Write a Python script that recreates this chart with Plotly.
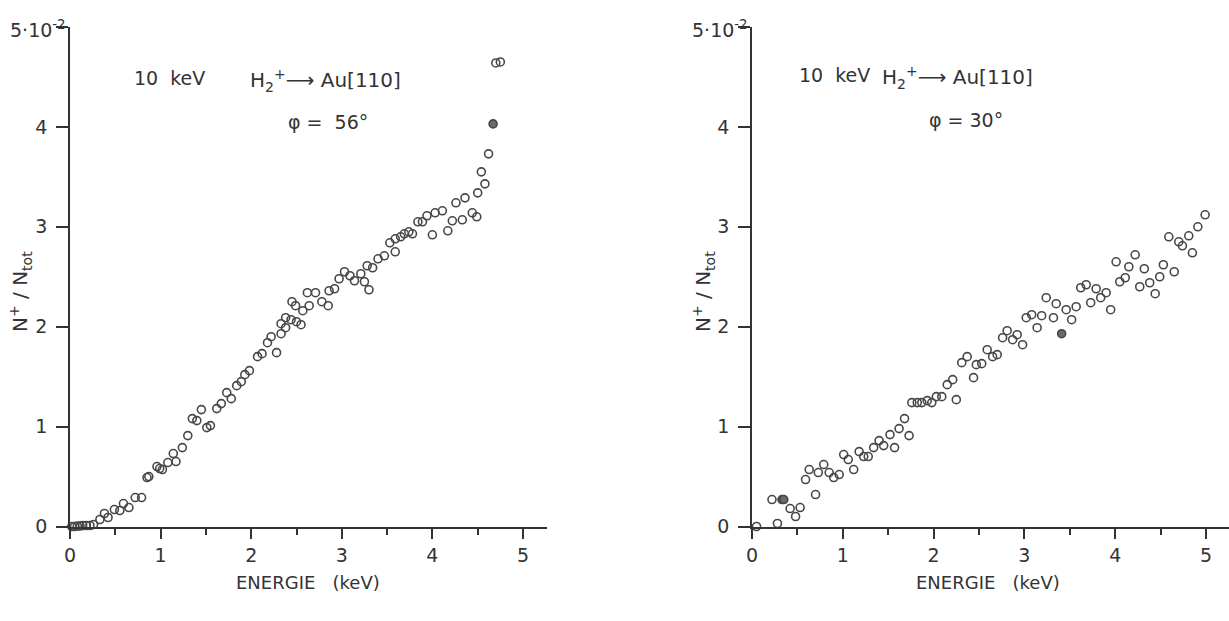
import plotly.graph_objects as go

# ---------------- data ----------------
left_x = [0.02, 0.05, 0.08, 0.11, 0.14, 0.18, 0.22, 0.26, 0.33, 0.38, 0.42, 0.49, 0.55, 0.59, 0.65,
          0.72, 0.79, 0.85, 0.87, 0.96, 0.99, 1.02, 1.08, 1.14, 1.17, 1.24, 1.30, 1.35, 1.40, 1.45,
          1.51, 1.55, 1.62, 1.67, 1.73, 1.78, 1.84, 1.89, 1.93, 1.98, 2.07, 2.12, 2.18, 2.22, 2.28,
          2.33, 2.33, 2.38, 2.38, 2.44, 2.45, 2.49, 2.50, 2.55, 2.57, 2.62, 2.64, 2.71, 2.78, 2.85,
          2.86, 2.92, 2.97, 3.03, 3.09, 3.14, 3.21, 3.25, 3.28, 3.30, 3.34, 3.40, 3.47, 3.53, 3.59,
          3.59, 3.65, 3.69, 3.74, 3.78, 3.84, 3.89, 3.94, 4.00, 4.03, 4.11, 4.17, 4.22, 4.26, 4.33,
          4.36, 4.44, 4.49, 4.50, 4.54, 4.58, 4.62, 4.70, 4.75]
left_y = [0.00, 0.00, 0.005, 0.005, 0.01, 0.01, 0.01, 0.02, 0.07, 0.13, 0.09, 0.17, 0.16, 0.23, 0.19,
          0.29, 0.29, 0.49, 0.50, 0.60, 0.58, 0.57, 0.64, 0.73, 0.65, 0.79, 0.91, 1.08, 1.06, 1.17,
          0.99, 1.01, 1.18, 1.23, 1.34, 1.28, 1.41, 1.45, 1.52, 1.56, 1.70, 1.73, 1.84, 1.90, 1.74,
          1.93, 2.03, 1.99, 2.09, 2.07, 2.25, 2.21, 2.05, 2.02, 2.16, 2.34, 2.21, 2.34, 2.25, 2.21,
          2.36, 2.38, 2.48, 2.55, 2.51, 2.46, 2.53, 2.45, 2.61, 2.37, 2.59, 2.68, 2.71, 2.84, 2.75,
          2.88, 2.90, 2.93, 2.95, 2.93, 3.05, 3.05, 3.11, 2.92, 3.14, 3.16, 2.96, 3.06, 3.24, 3.07,
          3.29, 3.14, 3.10, 3.34, 3.55, 3.43, 3.73, 4.64, 4.65]
left_filled_x = [4.67]
left_filled_y = [4.03]

right_x = [0.05, 0.22, 0.28, 0.42, 0.48, 0.53, 0.59, 0.63, 0.70, 0.73, 0.79, 0.85, 0.90, 0.96, 1.01,
           1.06, 1.12, 1.18, 1.23, 1.28, 1.34, 1.40, 1.45, 1.52, 1.57, 1.62, 1.68, 1.73, 1.76, 1.82,
           1.87, 1.93, 1.98, 2.03, 2.09, 2.15, 2.21, 2.25, 2.31, 2.37, 2.44, 2.47, 2.53, 2.59, 2.65,
           2.70, 2.76, 2.81, 2.87, 2.92, 2.98, 3.02, 3.08, 3.14, 3.19, 3.24, 3.32, 3.35, 3.46, 3.52,
           3.57, 3.62, 3.68, 3.73, 3.79, 3.84, 3.90, 3.95, 4.01, 4.05, 4.11, 4.15, 4.22, 4.27, 4.32,
           4.38, 4.44, 4.49, 4.53, 4.59, 4.65, 4.70, 4.74, 4.81, 4.85, 4.91, 4.99]
right_y = [0.00, 0.27, 0.03, 0.18, 0.10, 0.19, 0.47, 0.57, 0.32, 0.54, 0.62, 0.54, 0.49, 0.52, 0.72,
           0.67, 0.57, 0.75, 0.70, 0.70, 0.79, 0.86, 0.81, 0.92, 0.79, 0.98, 1.08, 0.91, 1.24, 1.24,
           1.24, 1.26, 1.24, 1.30, 1.30, 1.42, 1.47, 1.27, 1.64, 1.70, 1.49, 1.62, 1.63, 1.77, 1.70,
           1.72, 1.89, 1.96, 1.87, 1.92, 1.82, 2.09, 2.12, 1.99, 2.11, 2.29, 2.09, 2.23, 2.17, 2.07,
           2.20, 2.39, 2.42, 2.24, 2.38, 2.29, 2.34, 2.17, 2.65, 2.45, 2.49, 2.60, 2.72, 2.40, 2.58,
           2.44, 2.33, 2.50, 2.62, 2.90, 2.55, 2.85, 2.81, 2.91, 2.74, 3.00, 3.12]
right_filled_x = [0.33, 0.35, 3.41]
right_filled_y = [0.27, 0.27, 1.93]

y_tickvals = [0, 1, 2, 3, 4, 5]
y_ticktext = ["0", "1", "2", "3", "4", ""]
y_top_label = "5·10<sup>-2</sup>"
x_tickvals = [0, 1, 2, 3, 4, 5]
x_minorvals = [0.5, 1.5, 2.5, 3.5, 4.5]

# ---------------- style ----------------
W, H = 1229, 621
INK = "#333333"
MK = "#474747"
FONT = "DejaVu Sans"

fig = go.Figure()

def add_panel(xs, ys, fx, fy, xa, ya):
    fig.add_trace(go.Scatter(x=xs, y=ys, mode="markers", xaxis=xa, yaxis=ya,
                             marker=dict(symbol="circle-open", size=8, color=MK,
                                         line=dict(width=1.6, color=MK)),
                             cliponaxis=False, showlegend=False))
    fig.add_trace(go.Scatter(x=fx, y=fy, mode="markers", xaxis=xa, yaxis=ya,
                             marker=dict(symbol="circle", size=8, color="#6a6a6a",
                                         line=dict(width=1.6, color=MK)),
                             cliponaxis=False, showlegend=False))

add_panel(left_x, left_y, left_filled_x, left_filled_y, "x", "y")
add_panel(right_x, right_y, right_filled_x, right_filled_y, "x2", "y2")

def xaxis_cfg(domain, rng, anchor):
    return dict(domain=domain, range=rng, anchor=anchor, showgrid=False, zeroline=False,
                showline=True, linecolor=INK, linewidth=1.6,
                tickmode="array", tickvals=x_tickvals, ticktext=[str(v) for v in x_tickvals],
                ticks="outside", ticklen=11, tickwidth=1.6, tickcolor=INK,
                minor=dict(tickmode="array", tickvals=x_minorvals, ticks="outside",
                           ticklen=7, tickwidth=1.6, tickcolor=INK),
                tickfont=dict(family=FONT, size=19, color=INK),
                automargin=False, fixedrange=True)

def yaxis_cfg(domain, anchor):
    return dict(domain=domain, range=[0, 5], anchor=anchor, showgrid=False, zeroline=False,
                showline=True, linecolor=INK, linewidth=1.6,
                tickmode="array", tickvals=y_tickvals, ticktext=y_ticktext,
                ticks="outside", ticklen=12, tickwidth=1.6, tickcolor=INK,
                ticklabelstandoff=5,
                tickfont=dict(family=FONT, size=19, color=INK),
                automargin=False, fixedrange=True)

ydom = [(H - 526.5) / H, (H - 27) / H]
fig.update_layout(
    width=W, height=H,
    margin=dict(l=0, r=0, t=0, b=0),
    paper_bgcolor="white", plot_bgcolor="white",
    xaxis=xaxis_cfg([70 / W, 547 / W], [0, 5.265], "y"),
    yaxis=yaxis_cfg(ydom, "x"),
    xaxis2=xaxis_cfg([752 / W, 1.0], [0, 5.253], "y2"),
    yaxis2=yaxis_cfg(ydom, "x2"),
)

def ann(text, px, py, size=19, xanchor="center", angle=0):
    fig.add_annotation(text=text, x=px / W, y=1 - py / H, xref="paper", yref="paper",
                       xanchor=xanchor, yanchor="middle", showarrow=False, textangle=angle,
                       font=dict(family=FONT, size=size, color=INK))

# left panel texts
ann(y_top_label, 8, 29, size=19, xanchor="left")
ann("10  keV", 169, 78, size=19)
ann("H<sub>2</sub><sup>+</sup>⟶ Au[110]", 248, 80, size=20, xanchor="left")
ann("φ =  56°", 286, 122, size=19, xanchor="left")
ann("ENERGIE   (keV)", 308, 582, size=18)
ann("N<sup>+</sup> / N<sub>tot</sub>", 20, 292, size=20, angle=-90)

# right panel texts
ann(y_top_label, 690, 29, size=19, xanchor="left")
ann("10  keV", 834, 75, size=19)
ann("H<sub>2</sub><sup>+</sup>⟶ Au[110]", 880, 77, size=20, xanchor="left")
ann("φ = 30°", 927, 120, size=19, xanchor="left")
ann("ENERGIE   (keV)", 988, 582, size=18)
ann("N<sup>+</sup> / N<sub>tot</sub>", 703, 292, size=20, angle=-90)

fig.write_html("out.html")
